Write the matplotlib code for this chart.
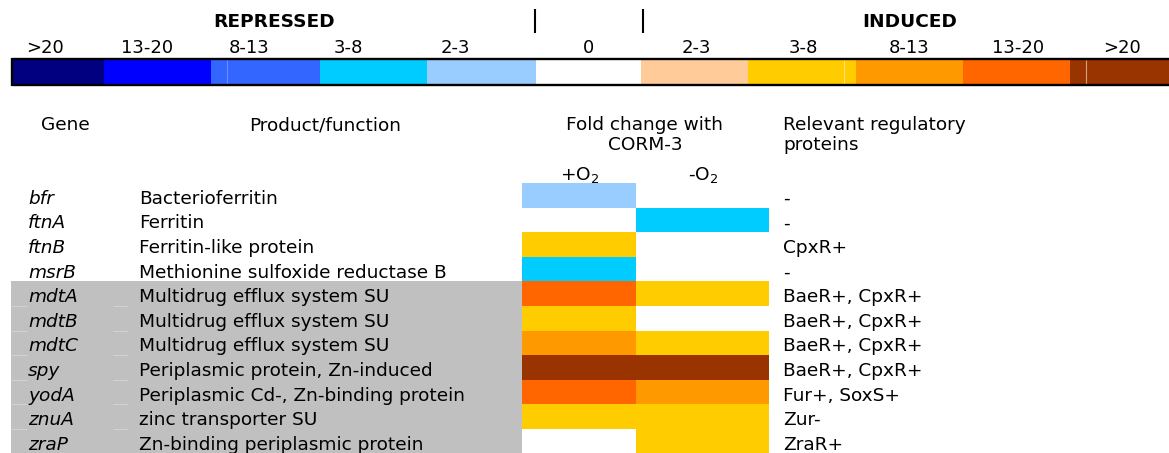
import matplotlib.pyplot as plt

# fold-change classes of the key, repressed -> induced
classes = ['>20', '13-20', '8-13', '3-8', '2-3', '0', '2-3', '3-8', '8-13', '13-20', '>20']
class_colors = ['#000080', '#0000FF', '#3366FF', '#00CCFF', '#99CCFF', '#FFFFFF',
                '#FFCC99', '#FFCC00', '#FF9900', '#FF6600', '#993300']

genes = ['bfr', 'ftnA', 'ftnB', 'msrB', 'mdtA', 'mdtB', 'mdtC', 'spy', 'yodA', 'znuA', 'zraP']
products = ['Bacterioferritin', 'Ferritin', 'Ferritin-like protein',
            'Methionine sulfoxide reductase B', 'Multidrug efflux system SU',
            'Multidrug efflux system SU', 'Multidrug efflux system SU',
            'Periplasmic protein, Zn-induced', 'Periplasmic Cd-, Zn-binding protein',
            'zinc transporter SU', 'Zn-binding periplasmic protein']
regulators = ['-', '-', 'CpxR+', '-', 'BaeR+, CpxR+', 'BaeR+, CpxR+', 'BaeR+, CpxR+',
              'BaeR+, CpxR+', 'Fur+, SoxS+', 'Zur-', 'ZraR+']
# class level per gene: -5 (>20 repressed) .. 0 (no change) .. 5 (>20 induced)
fold_plus_o2 = [-1, 0, 2, -2, 4, 2, 3, 5, 4, 2, 0]
fold_minus_o2 = [0, -2, 0, 0, 2, 0, 2, 5, 3, 2, 2]
highlighted = [False, False, False, False, True, True, True, True, True, True, True]

# layout (pixels)
W, H = 1169, 453
key_edges = [12, 104, 211, 320, 427, 536, 641, 748, 856, 963, 1070, 1175]
key_label_x = [45, 147, 249, 348, 455, 588, 696, 803, 909, 1018, 1122]
row_top, row_h = 183, 24.6
col_left = [522, 636]
col_w = [114, 133]
fs = 13.3

fig = plt.figure(figsize=(W / 100, H / 100), dpi=100)
ax = fig.add_axes([0, 0, 1, 1])
ax.set_xlim(0, W)
ax.set_ylim(H, 0)
ax.axis('off')

# ---- key ----
widths = [b - a for a, b in zip(key_edges[:-1], key_edges[1:])]
ax.bar(key_edges[:-1], 26, width=widths, bottom=59, align='edge',
       color=class_colors, linewidth=0)
ax.vlines([227, 844, 1086], 60, 84, colors=['#6A8CFF', '#FFE27A', '#D9A27E'], lw=0.8)
ax.hlines([58.8, 85.2], key_edges[0], W, color='black', lw=1.7)
ax.vlines(key_edges[0], 58, 86, color='black', lw=1.7)
for x, lab in zip(key_label_x, classes):
    ax.text(x, 53, lab, ha='center', va='baseline', fontsize=13)
ax.vlines([535, 643], 9, 33, color='black', lw=1.5)
ax.text(274, 27, 'REPRESSED', ha='center', va='baseline', fontsize=13.3, fontweight='bold')
ax.text(910, 27, 'INDUCED', ha='center', va='baseline', fontsize=13.3, fontweight='bold')

# ---- table headers ----
ax.text(65, 130, 'Gene', ha='center', va='baseline', fontsize=fs)
ax.text(325, 130, 'Product/function', ha='center', va='baseline', fontsize=fs)
ax.text(645, 130, 'Fold change with', ha='center', va='baseline', fontsize=fs)
ax.text(645, 150, 'CORM-3', ha='center', va='baseline', fontsize=fs)
ax.text(783, 130, 'Relevant regulatory', ha='left', va='baseline', fontsize=fs)
ax.text(783, 150, 'proteins', ha='left', va='baseline', fontsize=fs)
ax.text(580, 180, '+O$_2$', ha='center', va='baseline', fontsize=fs)
ax.text(703, 180, '-O$_2$', ha='center', va='baseline', fontsize=fs)

# ---- rows ----
n = len(genes)
centers = [row_top + row_h * (i + 0.5) for i in range(n)]
grey_rows = [c for c, h in zip(centers, highlighted) if h]
ax.barh(grey_rows, 511, height=row_h, left=11, color='#C0C0C0', linewidth=0)
bounds = [c - row_h / 2 for c in grey_rows[1:]]
ax.hlines(bounds, 11, 27, color='#D2D2D2', lw=0.8)
ax.hlines(bounds, 113, 127, color='#D2D2D2', lw=0.8)

for col, vals in enumerate([fold_plus_o2, fold_minus_o2]):
    colors = [class_colors[v + 5] for v in vals]
    ax.barh(centers, col_w[col], height=row_h, left=col_left[col],
            color=colors, linewidth=0)

for c, g, p, r in zip(centers, genes, products, regulators):
    ax.text(28, c + 8.5, g, ha='left', va='baseline', fontsize=fs, style='italic')
    ax.text(139, c + 8.5, p, ha='left', va='baseline', fontsize=fs)
    ax.text(783, c + 8.5, r, ha='left', va='baseline', fontsize=fs)

fig.savefig('out.png', dpi=100)
